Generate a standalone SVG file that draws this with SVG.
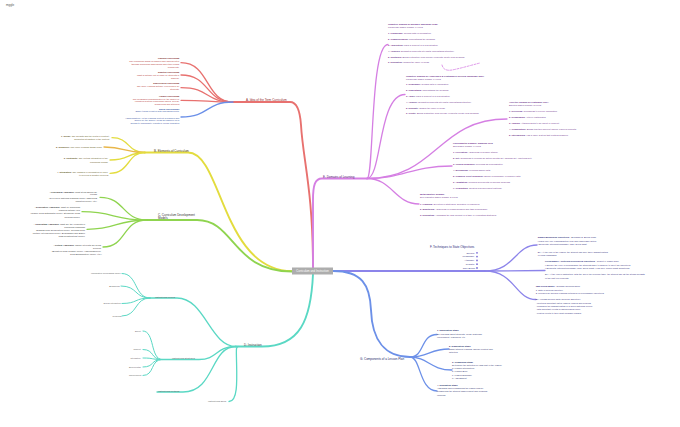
<svg xmlns="http://www.w3.org/2000/svg" width="680" height="427" viewBox="0 0 680 427">
<style>
text{font-family:"Liberation Sans",Arial,Helvetica,sans-serif;font-size:2.25px}
.e{text-anchor:end}
.b{font-weight:bold}
.br{font-size:3px}
path{fill:none;stroke-linecap:round}
.ra{stroke:#e8716f}
.rb{stroke:#6a8fe8}
.ya{stroke:#e3dc3e}
.yo{stroke:#e8b64a}
.gr{stroke:#8fd44f}
.tl{stroke:#5ad8c4}
.pk{stroke:#d57fe3}
.vi{stroke:#8c84ea}
.bl{stroke:#6c90e8}
.w1{stroke-width:1.9}
.w2{stroke-width:1.3}
.w3{stroke-width:1}
.tA{fill:#b3312f}.tAb{fill:#7a1c1c}
.tB{fill:#5c5212}
.tC{fill:#333}
.tD{fill:#555}
.tE{fill:#6a2c8a}
.tF{fill:#2d2a7a}
.tG{fill:#1f2d6b}
</style>
<text x="6" y="6" style="font-size:3px;fill:#555">mggle</text>

<g id="connectors">
  <!-- A -->
  <path class="ra w1" d="M233,102 L290,102 C297,102 300,110 301,125 C303,160 313,190 313,268"/>
  <path class="ra w2" d="M181,62.7 C210,62.7 205,102 233,102"/>
  <path class="ra w2" d="M181,75 C210,75 205,102 233,102"/>
  <path class="ra w2" d="M181,87.7 C210,87.7 205,102 233,102"/>
  <path class="ra w2" d="M181,100.3 C210,100.3 205,102 233,102"/>
  <path class="rb w2" d="M181,117 C210,117 205,102 233,102"/>
  <!-- B -->
  <path class="ya w1" d="M145,152.5 L188,152.5 C222,152.5 222,271 292,271"/>
  <path class="ya w2" d="M112,137.7 C130,137.7 127,152.5 145,152.5"/>
  <path class="yo w2" d="M104,147 C125,147 125,152.5 145,152.5"/>
  <path class="ya w2" d="M110,160 C130,160 127,152.5 145,152.5"/>
  <path class="ya w2" d="M110,173.3 C130,173.3 127,152.5 145,152.5"/>
  <!-- C -->
  <path class="gr w1" d="M147,220 L197,220 C235,220 232,271.5 292,271.5"/>
  <path class="gr w2" d="M100,197.3 C125,197.3 122,220 147,220"/>
  <path class="gr w2" d="M82,211.7 C115,211.7 112,220 147,220"/>
  <path class="gr w2" d="M87,229.3 C118,229.3 115,220 147,220"/>
  <path class="gr w2" d="M103,247 C127,247 122,220 147,220"/>
  <!-- D -->
  <path class="tl w1" d="M236,346.5 L262,346.5 C300,346.5 311,320 313,274"/>
  <path class="tl w2" d="M150,298 L177,298 C205,298 210,346.5 236,346.5"/>
  <path class="tl w3" d="M122,273.5 C138,273.5 134,298 150,298"/>
  <path class="tl w3" d="M121,286 C138,286 134,298 150,298"/>
  <path class="tl w3" d="M122,303.5 C138,303.5 134,298 150,298"/>
  <path class="tl w3" d="M122,316 C138,316 134,298 150,298"/>
  <path class="tl w2" d="M162,359.5 L199,359.5 C218,359.5 215,346.5 236,346.5"/>
  <path class="tl w3" d="M143,331 C155,331 150,359.5 162,359.5"/>
  <path class="tl w3" d="M143,349.5 C155,349.5 150,359.5 162,359.5"/>
  <path class="tl w3" d="M143,358 C155,358 150,359.5 162,359.5"/>
  <path class="tl w3" d="M143,367 C155,367 150,359.5 162,359.5"/>
  <path class="tl w3" d="M143,375.5 C155,375.5 150,359.5 162,359.5"/>
  <path class="tl w2" d="M157,392 L183,392 C215,392 210,346.5 236,346.5"/>
  <path class="tl w2" d="M229,401.5 C238,401.5 237,380 236.5,360 C236.3,350 236,346.5 238,346.5"/>
  <!-- E -->
  <path class="pk w1" d="M313,268 L313,200 C313,185 315,178.5 322,178.5 L367,178.5"/>
  <path class="pk w2" d="M367,178.5 C374,178.5 370,44.5 388,44.5"/>
  <path class="pk w2" d="M367,178.5 C382,178.5 378,94.5 405,94.5"/>
  <path class="pk w2" d="M367,178.5 C437,178.5 437,119 507,119"/>
  <path class="pk w2" d="M367,178.5 C405,178.5 410,166 452,166"/>
  <path class="pk w2" d="M367,178.5 C392,178.5 395,204 419,204"/>
  <path class="pk" stroke-width="0.8" stroke-dasharray="2,1.5" d="M442,65 C443,69 446,71 452,70 C462,68 472,65 480,63"/>
  <!-- F -->
  <path class="vi w1" d="M333,271 L485,271"/>
  <path class="vi w2" d="M485,271 C515,271 515,245 537,245"/>
  <path class="vi w2" d="M485,271 L545,270.5"/>
  <path class="vi w2" d="M485,271 C515,271 515,299.5 536,299.5"/>
  <!-- G -->
  <path class="bl w1" d="M333,271 C362,271 370,285 371,310 C372,340 385,357 410,357"/>
  <path class="bl w2" d="M410,357 C425,357 420,334.5 437,334.5"/>
  <path class="bl w2" d="M410,357 C428,357 430,349 449,349"/>
  <path class="bl w2" d="M410,357 C428,357 430,370 452,370"/>
  <path class="bl w2" d="M410,357 C421,357 419,391 437,391"/>
</g>

<g id="center">
  <rect x="292" y="267.5" width="41" height="7" fill="#adadad"/>
  <text x="312.5" y="272" style="font-size:2.8px;fill:#fff;text-anchor:middle">Curriculum and Instruction</text>
</g>

<g id="nodeA">
  <text x="246" y="101.2" class="br" fill="#8e1f1f">A. Idea of the Term Curriculum</text>
  <text class="e" x="180">
    <tspan x="180" y="59.4" class="b tAb">Planned Curriculum</tspan>
    <tspan x="180" y="62.1" class="tA">The curriculum which is planned and implemented</tspan>
    <tspan x="180" y="64.8" class="tA">through curriculum frameworks and other formal</tspan>
    <tspan x="180" y="67.5" class="tA">documents.</tspan>
    <tspan x="180" y="73.1" class="b tAb">Enacted Curriculum</tspan>
    <tspan x="180" y="75.8" class="tA">What is actually put in place by students in</tspan>
    <tspan x="180" y="78.5" class="tA">schools.</tspan>
    <tspan x="180" y="84.3" class="b tAb">Experienced Curriculum</tspan>
    <tspan x="180" y="87" class="tA">The more learning actually experienced by</tspan>
    <tspan x="180" y="89.7" class="tA">students.</tspan>
    <tspan x="180" y="96.8" class="b tAb">Hidden Curriculum</tspan>
    <tspan x="180" y="99.5" class="tA">The messages communicated by the school or</tspan>
    <tspan x="180" y="102.2" class="tA">education system concerning values, beliefs,</tspan>
    <tspan x="180" y="104.9" class="tA">behaviours and attitudes.</tspan>
  </text>
  <text class="e" x="180" fill="#2c4a9e">
    <tspan x="180" y="109.6" class="b">Spiral Curriculum?</tspan>
    <tspan x="180" y="112.3">Same topics revisited with increasing depth.</tspan>
    <tspan x="180" y="118.5">Harmonization: As the learning content is planned and</tspan>
    <tspan x="180" y="121.2">guided by the school, ideas are handed on in</tspan>
    <tspan x="180" y="123.9">groups to individuality, results in overall formation.</tspan>
  </text>
</g>

<g id="nodeB">
  <text x="154" y="152" class="br" fill="#4d4510">B. Elements of Curriculum</text>
  <text class="e tB">
    <tspan x="110" y="136.8"><tspan class="b">1. Scope:</tspan> The breadth and the depth of content;</tspan>
    <tspan x="110" y="140.1">horizontal integration of the content</tspan>
    <tspan x="103" y="147.5"><tspan class="b">2. Sequence:</tspan> The order in which things occur.</tspan>
    <tspan x="108.3" y="158.8"><tspan class="b">3. Continuity:</tspan> The vertical integration of the</tspan>
    <tspan x="108.3" y="162.5">curriculum design</tspan>
    <tspan x="108.3" y="172.5"><tspan class="b">4. Integration:</tspan> The linkages of information in order</tspan>
    <tspan x="108.3" y="175.8">to develop a holistic overview</tspan>
  </text>
</g>

<g id="nodeC">
  <text x="158" y="215.7" class="br" fill="#333">C. Curriculum Development</text>
  <text x="158" y="219.2" class="br" fill="#333">Models</text>
  <text class="e tC">
    <tspan x="97.7" y="192.5"><tspan class="b">- Procedural Approach:</tspan> What steps should we</tspan>
    <tspan x="97.7" y="195.3">follow?</tspan>
    <tspan x="97.7" y="199.1">(Tyler 1949 Rational Planning Model, Taba 1962</tspan>
    <tspan x="97.7" y="201.8">Induction Model, etc.)</tspan>
    <tspan x="80.7" y="208.1"><tspan class="b">- Descriptive Approach:</tspan> What do curriculum</tspan>
    <tspan x="80.7" y="210.8">planners actually do?</tspan>
    <tspan x="80.7" y="214.1">(Walker 1971 Naturalistic Model, Stenhouse 1975</tspan>
    <tspan x="80.7" y="217.5">Process Model)</tspan>
    <tspan x="85.7" y="224.8"><tspan class="b">- Conceptual Approach:</tspan> What are the elements of</tspan>
    <tspan x="85.7" y="227.5">curriculum planning?</tspan>
    <tspan x="85.7" y="230.9">(Schwab 1970 Deliberation Model, Goodlad 1979</tspan>
    <tspan x="85.7" y="233.9">Multiple Intelligences Model, Beauchamp and Eisner</tspan>
    <tspan x="85.7" y="236.9">1985 Constructivist Model)</tspan>
    <tspan x="101.7" y="246.1"><tspan class="b">- Critical Approach:</tspan> Whose interests are being</tspan>
    <tspan x="101.7" y="248.8">served?</tspan>
    <tspan x="101.7" y="251.8">(Bernstein 1975 Tyranny Model, Habermas/Freire</tspan>
    <tspan x="101.7" y="254.8">1971 Emancipatory Model, etc.)</tspan>
  </text>
</g>

<g id="nodeD">
  <text x="244" y="346" class="br" fill="#444">D. Instruction</text>
  <text x="155" y="297.6" class="tD">Instructional Models</text>
  <text class="e tD">
    <tspan x="121.5" y="274.1">Information Processing Model</tspan>
    <tspan x="120.5" y="286.5">Behavioral</tspan>
    <tspan x="121.5" y="304.1">Social Interaction</tspan>
    <tspan x="121.5" y="316.8">Personal</tspan>
  </text>
  <text x="172" y="359.2" class="tD">Instructional Strategies</text>
  <text class="e tD">
    <tspan x="141.5" y="331.5">Direct</tspan>
    <tspan x="141.5" y="350.1">Indirect</tspan>
    <tspan x="141.5" y="358.5">Interactive</tspan>
    <tspan x="141.5" y="367.5">Experiential</tspan>
    <tspan x="141.5" y="375.8">Independent</tspan>
  </text>
  <text x="158" y="391.6" class="tD">Instructional Methods</text>
  <text x="208" y="401.6" class="tD">Instructional Skills</text>
</g>

<g id="nodeE">
  <text x="323" y="177.8" class="br" fill="#5a2475">E. Domains of Learning</text>
  <text class="tE">
    <tspan x="388" y="25.1" class="b">Cognitive Domain by Bloom's Taxonomy 1956:</tspan>
    <tspan x="388" y="27.8">Knowledge-based domain, 6 levels</tspan>
    <tspan x="388" y="34.1"><tspan class="b">1. Knowledge:</tspan> Recalls data or information.</tspan>
    <tspan x="388" y="40.1"><tspan class="b">2. Comprehension:</tspan> Understands the meaning.</tspan>
    <tspan x="388" y="45.8"><tspan class="b">3. Application:</tspan> Uses a concept in a new situation.</tspan>
    <tspan x="388" y="51.5"><tspan class="b">4. Analysis:</tspan> Separates concepts into parts; understands structure.</tspan>
    <tspan x="388" y="57.5"><tspan class="b">5. Synthesis:</tspan> Builds a structure from diverse elements; create new meaning.</tspan>
    <tspan x="388" y="63.1"><tspan class="b">6. Evaluation:</tspan> Judges the value of ideas.</tspan>
  </text>
  <text class="tE">
    <tspan x="406" y="76.5" class="b">Cognitive Domain by Anderson's &amp; Krathwohl's Revised Taxonomy 2001:</tspan>
    <tspan x="406" y="79.5">Knowledge-based domain, 6 levels</tspan>
    <tspan x="406" y="85.1"><tspan class="b">1. Remember:</tspan> Recalls data or information.</tspan>
    <tspan x="406" y="91.1"><tspan class="b">2. Understand:</tspan> Understands the meaning.</tspan>
    <tspan x="406" y="96.8"><tspan class="b">3. Apply:</tspan> Uses a concept in a new situation.</tspan>
    <tspan x="406" y="102.5"><tspan class="b">4. Analyze:</tspan> Separates concepts into parts; understands structure.</tspan>
    <tspan x="406" y="108.5"><tspan class="b">5. Evaluate:</tspan> Judges the value of ideas.</tspan>
    <tspan x="406" y="114.1"><tspan class="b">6. Create:</tspan> Builds a structure from diverse elements; create new meaning.</tspan>
  </text>
  <text class="tE">
    <tspan x="509" y="103.3" class="b">Affective Domain by Krathwohl 1964:</tspan>
    <tspan x="509" y="106.3">Emotion-based domain, 5 levels</tspan>
    <tspan x="509" y="112.3"><tspan class="b">1. Receiving:</tspan> Willingness to receive information</tspan>
    <tspan x="509" y="118.3"><tspan class="b">2. Responding:</tspan> Actively participates</tspan>
    <tspan x="509" y="124.3"><tspan class="b">3. Valuing:</tspan> Attaches worth to an object or concept</tspan>
    <tspan x="509" y="130.3"><tspan class="b">4. Organization:</tspan> Brings together different values; resolves conflicts</tspan>
    <tspan x="509" y="136.3"><tspan class="b">5. Internalizing:</tspan> Has a value system that controls behavior</tspan>
  </text>
  <text class="tE">
    <tspan x="453" y="144.1" class="b">Psychomotor Domain: Simpson 1972</tspan>
    <tspan x="453" y="147.1">Skill-based domain, 7 levels</tspan>
    <tspan x="453" y="152.5"><tspan class="b">1. Perception:</tspan> Awareness of sensory stimuli.</tspan>
    <tspan x="453" y="158.5"><tspan class="b">2. Set:</tspan> Readiness to perform an action (mental set, physical set, emotional set)</tspan>
    <tspan x="453" y="164.5"><tspan class="b">3. Guided Response:</tspan> Performs as demonstrated.</tspan>
    <tspan x="453" y="170.5"><tspan class="b">4. Mechanism:</tspan> Performs simple acts.</tspan>
    <tspan x="453" y="176.5"><tspan class="b">5. Complex Overt Response:</tspan> Skillful performance of complex acts.</tspan>
    <tspan x="453" y="182.5"><tspan class="b">6. Adaptation:</tspan> Modifies movements for special problems.</tspan>
    <tspan x="453" y="188.5"><tspan class="b">7. Origination:</tspan> Creates new movement patterns.</tspan>
  </text>
  <text class="tE">
    <tspan x="420" y="195.1" class="b">Metacognitive Domain:</tspan>
    <tspan x="420" y="198.1">Self-regulated based domain, 3 levels</tspan>
    <tspan x="420" y="205.1"><tspan class="b">1. Planning:</tspan> Selection of strategies, allocation of resources.</tspan>
    <tspan x="420" y="210.4"><tspan class="b">2. Monitoring:</tspan> Awareness of comprehension and task performance.</tspan>
    <tspan x="420" y="216.1"><tspan class="b">3. Evaluating:</tspan> Appraising the final product of a task, re-evaluating strategies.</tspan>
  </text>
</g>

<g id="nodeF">
  <text x="430" y="248.2" class="br" fill="#2d2a7a">F. Techniques to State Objectives</text>
  <text class="e tF">
    <tspan x="475" y="253.6">Specific</tspan>
    <tspan x="475" y="257.4">Measurable</tspan>
    <tspan x="475" y="261.2">Attainable</tspan>
    <tspan x="475" y="265">Realistic</tspan>
    <tspan x="475" y="268.8">Time-Bound</tspan>
  </text>
  <g fill="#7d6fd8">
    <circle cx="477" cy="252.8" r="0.9"/>
    <circle cx="477" cy="256.6" r="0.9"/>
    <circle cx="477" cy="260.4" r="0.9"/>
    <circle cx="477" cy="264.2" r="0.9"/>
    <circle cx="477" cy="268" r="0.9"/>
  </g>
  <text class="tF">
    <tspan x="537.7" y="237.5"><tspan class="b">Simple/Behavioral Objectives</tspan> - Benjamin S. Bloom 1956</tspan>
    <tspan x="537.7" y="241.8">•  Uses only one learning/action verb and observable action</tspan>
    <tspan x="537.7" y="245.1">•  Elements: Introduction/Phase: Who, Does What</tspan>
    <tspan x="537.7" y="252.5">Ex.: At the end of the lesson, the student can give three characteristics</tspan>
    <tspan x="537.7" y="255.5">of living organisms.</tspan>
    <tspan x="545" y="261.5"><tspan class="b">Performance / Criterion-Referenced Objectives</tspan> - Robert F. Mager 1984</tspan>
    <tspan x="545" y="265.8">•  Specify the level of performance the students have to achieve to meet the objectives</tspan>
    <tspan x="545" y="269.1">•  Elements: Introduction/Phase: Who, Does What, How Well, Under What Conditions</tspan>
    <tspan x="545" y="275.1">Ex.: At the end of instruction, with the aid of the periodic table, the student will list the atomic weights</tspan>
    <tspan x="545" y="278.5">of the first ten elements.</tspan>
    <tspan x="535.7" y="286.5"><tspan class="b">Two-Tiered Model</tspan> - Norman Gronlund 2000</tspan>
    <tspan x="535.7" y="290.8">1.  State a general objective</tspan>
    <tspan x="535.7" y="294.1">2.  Followed by specific learning outcomes or performance objectives</tspan>
    <tspan x="535.7" y="300.1">Ex.: Knows specific facts (General Objective)</tspan>
    <tspan x="535.7" y="303.5">- identifies important dates, names, places and persons</tspan>
    <tspan x="535.7" y="306.8">- describes the characteristics of a given historical period</tspan>
    <tspan x="535.7" y="310.1">- lists important events in chronological order</tspan>
    <tspan x="535.7" y="313.5">- relates events to their most probable causes</tspan>
  </text>
</g>

<g id="nodeG">
  <text x="360" y="359.5" class="br" fill="#1f2d6b">G. Components of a Lesson Plan</text>
  <text class="tG">
    <tspan x="437" y="330.8" class="b">1. Exploration Stage</tspan>
    <tspan x="437" y="334.5">Do research about students, ideas, materials,</tspan>
    <tspan x="437" y="337.8">environment, resources, etc.</tspan>
    <tspan x="449" y="346.5" class="b">2. Elaboration Stage</tspan>
    <tspan x="449" y="349.8">Target student learning, choose content and</tspan>
    <tspan x="449" y="353.1">activities</tspan>
    <tspan x="452" y="362.5" class="b">3. Organizing Stage</tspan>
    <tspan x="452" y="365.8">Determine the activities in each part of the lesson:</tspan>
    <tspan x="452" y="369.1">a. Lesson Introduction</tspan>
    <tspan x="452" y="372.4">b. Lesson Body</tspan>
    <tspan x="452" y="375.7">c. Lesson Summary</tspan>
    <tspan x="452" y="379">d. Assessment</tspan>
    <tspan x="437" y="385.8" class="b">4. Evaluation Stage</tspan>
    <tspan x="437" y="389.1">Assessing and reorganizing the lesson plan by</tspan>
    <tspan x="437" y="392.4">considering the student achievement and personal</tspan>
    <tspan x="437" y="395.7">opinions</tspan>
  </text>
</g>
</svg>
